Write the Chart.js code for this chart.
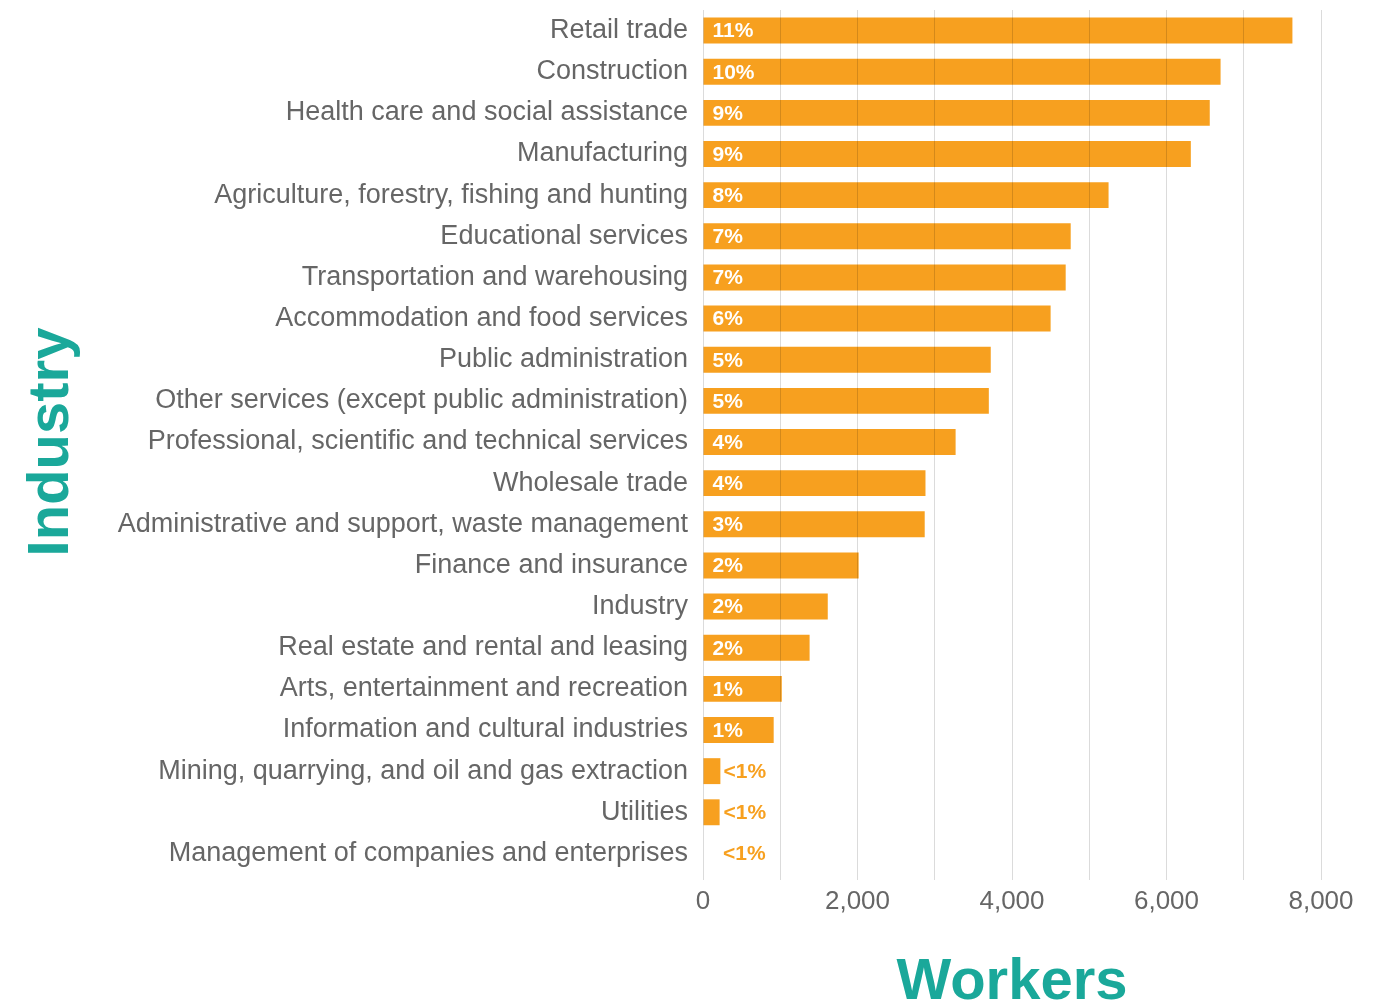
<!DOCTYPE html>
<html>
<head>
<meta charset="utf-8">
<script src="https://cdn.jsdelivr.net/npm/chart.js@4.4.1/dist/chart.umd.min.js"></script>
<style>
  html, body { margin: 0; padding: 0; background: #fff; }
  #wrap { width: 1385px; height: 1006px; }
</style>
</head>
<body>
<div id="wrap"><canvas id="industryChart" width="1385" height="1006"></canvas></div>
<script>
// workers by industry
const industries = [
  'Retail trade',
  'Construction',
  'Health care and social assistance',
  'Manufacturing',
  'Agriculture, forestry, fishing and hunting',
  'Educational services',
  'Transportation and warehousing',
  'Accommodation and food services',
  'Public administration',
  'Other services (except public administration)',
  'Professional, scientific and technical services',
  'Wholesale trade',
  'Administrative and support, waste management',
  'Finance and insurance',
  'Industry',
  'Real estate and rental and leasing',
  'Arts, entertainment and recreation',
  'Information and cultural industries',
  'Mining, quarrying, and oil and gas extraction',
  'Utilities',
  'Management of companies and enterprises'
];
const workers = [7630, 6700, 6560, 6315, 5250, 4760, 4695, 4500, 3725, 3700,
                 3270, 2880, 2870, 2015, 1615, 1380, 1020, 915, 225, 215, 0];
const shares = ['11%', '10%', '9%', '9%', '8%', '7%', '7%', '6%', '5%', '5%',
                '4%', '4%', '3%', '2%', '2%', '2%', '1%', '1%', '<1%', '<1%', '<1%'];
const xTicks = [0, 2000, 4000, 6000, 8000];

const ORANGE = '#F7A01F';
const TEAL = '#1AA89A';
const GREY = '#666666';
const FONT = '"Liberation Sans", Arial, sans-serif';

// share labels: white inside the bar, orange beside it when the bar is too short
const shareLabels = {
  id: 'shareLabels',
  afterDatasetsDraw(chart) {
    const ctx = chart.ctx;
    const meta = chart.getDatasetMeta(0);
    ctx.save();
    ctx.font = 'bold 21px ' + FONT;
    ctx.textBaseline = 'middle';
    ctx.textAlign = 'left';
    meta.data.forEach((bar, i) => {
      const txt = shares[i];
      const w = ctx.measureText(txt).width;
      if (bar.x - bar.base > w + 14) {
        ctx.fillStyle = '#ffffff';
        ctx.fillText(txt, bar.base + 9, bar.y + 1);
      } else {
        ctx.fillStyle = ORANGE;
        ctx.fillText(txt, bar.base + 20, bar.y + 1);
      }
    });
    ctx.restore();
  }
};

new Chart(document.getElementById('industryChart'), {
  type: 'bar',
  data: {
    labels: industries,
    datasets: [{
      data: workers,
      backgroundColor: ORANGE,
      borderWidth: 0,
      categoryPercentage: 1,
      barPercentage: 0.63
    }]
  },
  options: {
    indexAxis: 'y',
    responsive: false,
    animation: false,
    layout: { padding: { top: 10, right: 64, bottom: 0, left: 0 } },
    plugins: {
      legend: { display: false },
      tooltip: { enabled: false }
    },
    scales: {
      x: {
        min: 0,
        max: 8000,
        grid: { color: 'rgba(0,0,0,0.14)', lineWidth: 1, tickLength: 6, z: 1 },
        border: { display: false },
        afterBuildTicks: (scale) => {
          scale.ticks = [];
          for (let v = 0; v <= 8000; v += 1000) scale.ticks.push({ value: v });
        },
        ticks: {
          color: GREY,
          padding: 6,
          maxRotation: 0,
          font: { family: FONT, size: 26 },
          callback: (v) => xTicks.includes(v) ? v.toLocaleString('en-US') : ''
        },
        title: {
          display: true,
          text: 'Workers',
          color: TEAL,
          padding: 0,
          font: { family: FONT, size: 58, weight: 'bold', lineHeight: 0.8 }
        },
        afterFit: (scale) => { scale.height = 132; }
      },
      y: {
        grid: { display: false, drawTicks: false },
        border: { display: false },
        ticks: {
          color: GREY,
          padding: 15,
          autoSkip: false,
          font: { family: FONT, size: 27 }
        },
        title: {
          display: true,
          text: 'Industry',
          color: TEAL,
          padding: { top: 29, bottom: 0 },
          font: { family: FONT, size: 58, weight: 'bold', lineHeight: 0.8 }
        },
        afterFit: (scale) => {
          scale.width = 703;
          scale.paddingTop = 0;
          scale.paddingBottom = 0;
        }
      }
    }
  },
  plugins: [shareLabels]
});
</script>
</body>
</html>
